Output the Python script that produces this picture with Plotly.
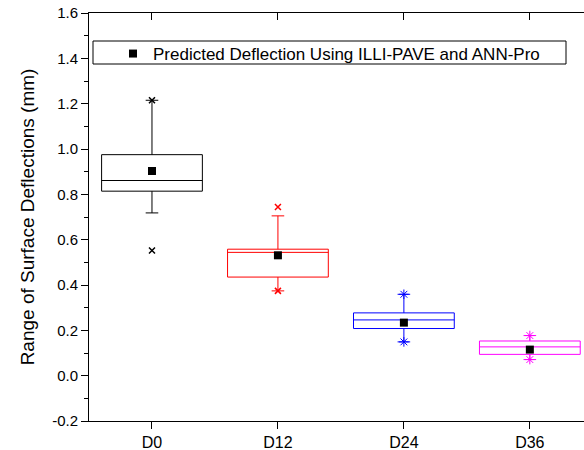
import plotly.graph_objects as go

categories = ["D0", "D12", "D24", "D36"]
q1 = [0.814, 0.435, 0.208, 0.094]
median = [0.861, 0.544, 0.246, 0.127]
q3 = [0.975, 0.558, 0.277, 0.153]
lower_whisker = [0.718, 0.374, 0.149, 0.071]
upper_whisker = [1.215, 0.705, 0.359, 0.177]
mean_vals = [0.903, 0.531, 0.234, 0.115]
min_vals = [0.552, 0.374, 0.149, 0.071]
max_vals = [1.215, 0.744, 0.359, 0.177]
y_ticks = [-0.2, 0.0, 0.2, 0.4, 0.6, 0.8, 1.0, 1.2, 1.4, 1.6]

colors = ["#000000", "#FF0000", "#0000FF", "#FF00FF"]
extreme_symbols = ["x-thin-open", "x-thin-open", "asterisk-open", "asterisk-open"]
extreme_sizes = [6, 6, 8, 8]
extreme_widths = [1.5, 1.5, 1, 1]

FONT = "Liberation Sans, Arial, sans-serif"
XR = [-0.5, 3.43]
PW, PH = 495, 408  # plot area size in px

fig = go.Figure()
for i, c in enumerate(categories):
    fig.add_trace(go.Box(
        x=[c], q1=[q1[i]], median=[median[i]], q3=[q3[i]],
        lowerfence=[lower_whisker[i]], upperfence=[upper_whisker[i]],
        line=dict(color=colors[i], width=1), fillcolor="rgba(0,0,0,0)",
        width=0.8, whiskerwidth=0.125, boxpoints=False, showlegend=False,
        hoverinfo="skip",
    ))
    fig.add_trace(go.Scatter(
        x=[c, c], y=[min_vals[i], max_vals[i]], mode="markers",
        marker=dict(symbol=extreme_symbols[i], size=extreme_sizes[i], color=colors[i],
                    line=dict(color=colors[i], width=extreme_widths[i])),
        showlegend=False, hoverinfo="skip",
    ))

fig.add_trace(go.Scatter(
    x=categories, y=mean_vals, mode="markers",
    marker=dict(symbol="square", size=8, color="black"),
    name="Predicted Deflection Using ILLI-PAVE and ANN-Pro",
))

# top axis with inward ticks
fig.add_trace(go.Scatter(x=[0], y=[None], xaxis="x2", showlegend=False, hoverinfo="skip"))

fig.update_layout(
    width=584, height=450,
    margin=dict(l=89, r=0, t=13, b=29),
    plot_bgcolor="white", paper_bgcolor="white",
    font=dict(family=FONT, size=15, color="black"),
    boxmode="overlay",
    showlegend=True,
    legend=dict(x=24 / PW, y=1 - 23 / PH, xanchor="left", yanchor="top",
                bgcolor="rgba(0,0,0,0)", borderwidth=0,
                font=dict(size=17, family=FONT), itemwidth=30),
    xaxis=dict(
        type="category", categoryorder="array", categoryarray=categories,
        range=XR, showline=True, linecolor="black", linewidth=1,
        ticks="outside", ticklen=7, tickcolor="black",
        showgrid=False, zeroline=False, tickfont=dict(size=16),
    ),
    xaxis2=dict(
        overlaying="x", side="top", range=XR, tickvals=[0, 1, 2, 3],
        showticklabels=False, ticks="inside", ticklen=7, tickcolor="black",
        showline=True, linecolor="black", linewidth=1, showgrid=False,
        zeroline=False,
    ),
    yaxis=dict(
        range=[-0.2, 1.6], tickmode="array", tickvals=y_ticks,
        ticktext=[f"{v:.1f}" for v in y_ticks], ticklabeloverflow="allow",
        showline=True, linecolor="black", linewidth=1,
        ticks="outside", ticklen=7, tickcolor="black",
        minor=dict(tickmode="linear", tick0=-0.1, dtick=0.2, ticks="outside",
                   ticklen=4, tickcolor="black"),
        showgrid=False, zeroline=False, tickfont=dict(size=15),
        title=dict(text="Range of Surface Deflections (mm)", font=dict(size=19), standoff=12),
    ),
    shapes=[dict(type="rect", xref="paper", yref="paper",
                 x0=(93 - 89) / PW, x1=(566 - 89) / PW,
                 y0=(421 - 64) / PH, y1=(421 - 41) / PH,
                 line=dict(color="black", width=1))],
)

fig.write_html("out.html", config={"displayModeBar": False},
               post_script="document.body.style.margin='0';document.body.style.overflow='hidden';")
